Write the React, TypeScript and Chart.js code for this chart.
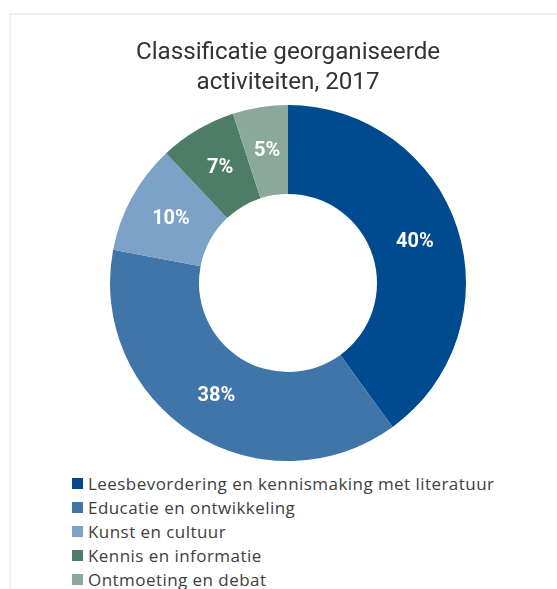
import React, { useEffect, useRef } from "react";
import { Chart, registerables } from "chart.js";

Chart.register(...registerables);

const titleLines = ["Classificatie georganiseerde", "activiteiten, 2017"];
const categories = [
  "Leesbevordering en kennismaking met literatuur",
  "Educatie en ontwikkeling",
  "Kunst en cultuur",
  "Kennis en informatie",
  "Ontmoeting en debat",
];
const values = [40, 38, 10, 7, 5];
const colors = ["#004a8f", "#3f75a8", "#7ca2c8", "#4e7d67", "#8ba99b"];

const FONT = "Roboto, 'Open Sans', sans-serif";
const LEGEND_FONT = "'Open Sans', Roboto, sans-serif";

const labelPlugin = {
  id: "arcLabels",
  afterDatasetsDraw(chart: any) {
    const ctx = chart.ctx;
    const meta = chart.getDatasetMeta(0);
    const data = chart.data.datasets[0].data as number[];
    const total = data.reduce((a, b) => a + b, 0);
    ctx.save();
    ctx.fillStyle = "#ffffff";
    ctx.font = `bold 20px ${FONT}`;
    ctx.textAlign = "center";
    ctx.textBaseline = "middle";
    meta.data.forEach((arc: any, i: number) => {
      const p = arc.getCenterPoint();
      const pct = Math.round((data[i] / total) * 100);
      ctx.fillText(pct + "%", p.x, p.y);
    });
    ctx.restore();
  },
};

export default function App() {
  const ref = useRef<HTMLCanvasElement | null>(null);
  useEffect(() => {
    if (!ref.current) return;
    const chart = new Chart(ref.current, {
      type: "doughnut",
      data: {
        labels: categories,
        datasets: [
          {
            data: values,
            backgroundColor: colors,
            borderWidth: 0,
          },
        ],
      },
      options: {
        animation: false,
        responsive: false,
        maintainAspectRatio: false,
        cutout: "50%",
        layout: { padding: { top: 0, left: 30, right: 11, bottom: 9 } },
        plugins: {
          legend: { display: false },
          tooltip: { enabled: false },
          title: {
            display: true,
            text: titleLines,
            color: "#333333",
            font: { family: FONT, size: 24.2, weight: "normal", lineHeight: "30px" },
            padding: { top: 38, bottom: 7 },
          },
        },
      },
      plugins: [labelPlugin],
    });
    return () => chart.destroy();
  }, []);

  return (
    <div style={{ position: "absolute", left: 0, top: 0, width: 557, height: 589, overflow: "hidden", background: "#fff" }}>
      <div
        style={{
          position: "absolute",
          left: 9,
          top: 13,
          width: 600,
          height: 620,
          border: "2px solid #f0f0f0",
          boxSizing: "border-box",
        }}
      />
      <canvas ref={ref} width={557} height={470} style={{ position: "absolute", left: 0, top: 0, width: 557, height: 470 }} />
      <div style={{ position: "absolute", left: 72, top: 471, fontFamily: LEGEND_FONT, fontSize: 17, letterSpacing: "0.45px", color: "#404040" }}>
        {categories.map((c, i) => (
          <div key={c} style={{ display: "flex", alignItems: "center", height: 24, whiteSpace: "nowrap" }}>
            <span style={{ display: "inline-block", width: 11, height: 11, background: colors[i], marginRight: 5 }} />
            <span>{c}</span>
          </div>
        ))}
      </div>
    </div>
  );
}
